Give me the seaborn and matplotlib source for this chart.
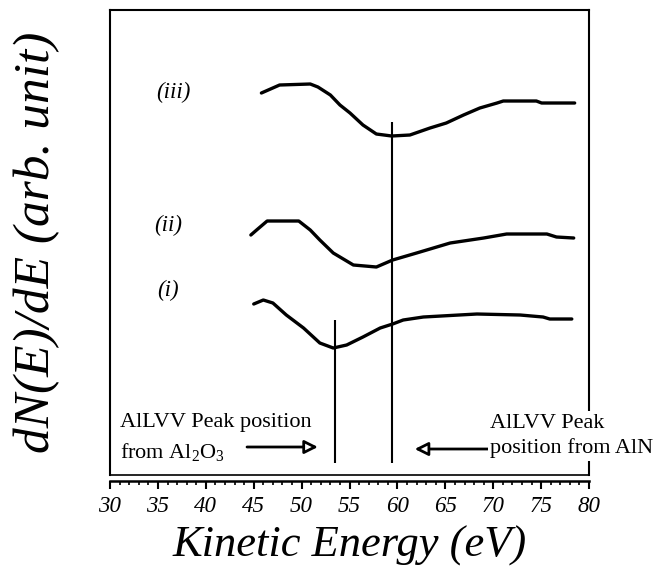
import matplotlib
matplotlib.use("Agg")
import matplotlib.pyplot as plt
from matplotlib.ticker import MultipleLocator
import seaborn as sns

# Spectra (energy in eV, intensity in arbitrary units).
ENERGY_III = [45.8, 47.7, 50.9, 51.7, 53.0, 54.0, 55.05, 56.4, 57.8, 59.4,
              61.3, 63.4, 65.1, 66.9, 68.6, 70.4, 71.05, 74.5, 75.05, 78.5]
SIGNAL_III = [3.82, 3.90, 3.91, 3.88, 3.80, 3.70, 3.62, 3.50, 3.41, 3.39,
              3.40, 3.47, 3.52, 3.60, 3.67, 3.72, 3.74, 3.74, 3.72, 3.72]

ENERGY_II = [44.7, 45.3, 46.4, 49.7, 50.9, 51.9, 53.3, 55.4, 57.8, 59.5,
             62.0, 65.5, 69.0, 71.4, 75.6, 76.6, 78.4]
SIGNAL_II = [2.40, 2.45, 2.54, 2.54, 2.45, 2.35, 2.22, 2.10, 2.08, 2.15,
             2.22, 2.32, 2.37, 2.41, 2.41, 2.38, 2.37]

ENERGY_I = [45.0, 46.0, 47.0, 48.4, 50.2, 51.9, 53.3, 54.7, 56.4, 58.2,
            59.5, 60.6, 62.7, 68.3, 72.8, 75.2, 75.9, 78.2]
SIGNAL_I = [1.71, 1.75, 1.72, 1.60, 1.47, 1.32, 1.27, 1.30, 1.38, 1.47,
            1.51, 1.55, 1.58, 1.61, 1.60, 1.58, 1.56, 1.56]

CURVE_LABELS = ["(iii)", "(ii)", "(i)"]

# Reference peak positions (Al2O3 and AlN) and the span of their markers.
PEAK_AL2O3 = 53.5
PEAK_ALN = 59.4
PEAK_AL2O3_SPAN = (0.12, 1.55)
PEAK_ALN_SPAN = (0.12, 3.53)

X_LIMITS = (30, 80)
Y_LIMITS = (0, 4.65)

sns.set_theme(style="white")
plt.rcParams["font.family"] = ["Liberation Serif", "DejaVu Serif"]
plt.rcParams["mathtext.fontset"] = "custom"
plt.rcParams["mathtext.rm"] = "Liberation Serif"
plt.rcParams["mathtext.it"] = "Liberation Serif:italic"
plt.rcParams["text.color"] = "black"
plt.rcParams["axes.labelcolor"] = "black"
plt.rcParams["xtick.color"] = "black"

fig = plt.figure(figsize=(6.62, 5.75), dpi=100)
ax = fig.add_axes([0.1662, 0.1739, 0.7236, 0.8087])

for energia, sinal in [(ENERGY_III, SIGNAL_III), (ENERGY_II, SIGNAL_II), (ENERGY_I, SIGNAL_I)]:
    sns.lineplot(x=energia, y=sinal, color="black", linewidth=2.4,
                 estimator=None, ax=ax)

ax.vlines(PEAK_AL2O3, *PEAK_AL2O3_SPAN, color="black", linewidth=1.5)
ax.vlines(PEAK_ALN, *PEAK_ALN_SPAN, color="black", linewidth=1.5)

ax.set_xlim(*X_LIMITS)
ax.set_ylim(*Y_LIMITS)

# Moldura da caixa e eixo x deslocado um pouco para baixo.
for lado in ["left", "right", "top"]:
    ax.spines[lado].set_color("black")
    ax.spines[lado].set_linewidth(1.5)
ax.spines["bottom"].set_position(("outward", 4))
ax.spines["bottom"].set_color("black")
ax.spines["bottom"].set_linewidth(1.8)
ax.axhline(Y_LIMITS[0], color="black", linewidth=1.2, clip_on=False)

ax.xaxis.set_major_locator(MultipleLocator(5))
ax.xaxis.set_minor_locator(MultipleLocator(1))
ax.tick_params(axis="x", which="major", direction="out", length=6, width=1.5,
               color="black", bottom=True, pad=5, labelsize=16.5)
ax.tick_params(axis="x", which="minor", direction="out", length=3, width=1.2,
               color="black", bottom=True)
for rotulo in ax.get_xticklabels():
    rotulo.set_fontstyle("italic")
ax.set_yticks([])

ax.set_xlabel("Kinetic Energy (eV)", fontsize=32, fontstyle="italic")
ax.xaxis.label.set_va("center")
ax.xaxis.set_label_coords(0.5, -0.152)
ax.set_ylabel("dN(E)/dE (arb. unit)", fontsize=37, fontstyle="italic")
ax.yaxis.label.set_va("center")
ax.yaxis.set_label_coords(-0.152, 0.5)

posicoes_rotulos = [(36.6, 3.83), (36.05, 2.50), (36.05, 1.85)]
for texto, (px, py) in zip(CURVE_LABELS, posicoes_rotulos):
    ax.text(px, py, texto, fontsize=16.5, fontstyle="italic", ha="center", va="center")

ax.text(31.0, 0.37, "AlLVV Peak position\nfrom Al$_2$O$_3$", fontsize=16,
        ha="left", va="center", linespacing=1.55)
ax.text(69.7, 0.39, "AlLVV Peak\nposition from AlN", fontsize=16,
        ha="left", va="center", linespacing=1.35, zorder=5,
        bbox=dict(facecolor="white", edgecolor="none", pad=2))

seta = dict(arrowstyle="-|>", facecolor="white", edgecolor="black",
            linewidth=2, mutation_scale=20, shrinkA=0, shrinkB=0)
ax.annotate("", xy=(51.7, 0.28), xytext=(44.3, 0.28), arrowprops=seta)
ax.annotate("", xy=(61.8, 0.26), xytext=(69.5, 0.26), arrowprops=seta)

fig.savefig("out.png", dpi=100)
plt.close(fig)
